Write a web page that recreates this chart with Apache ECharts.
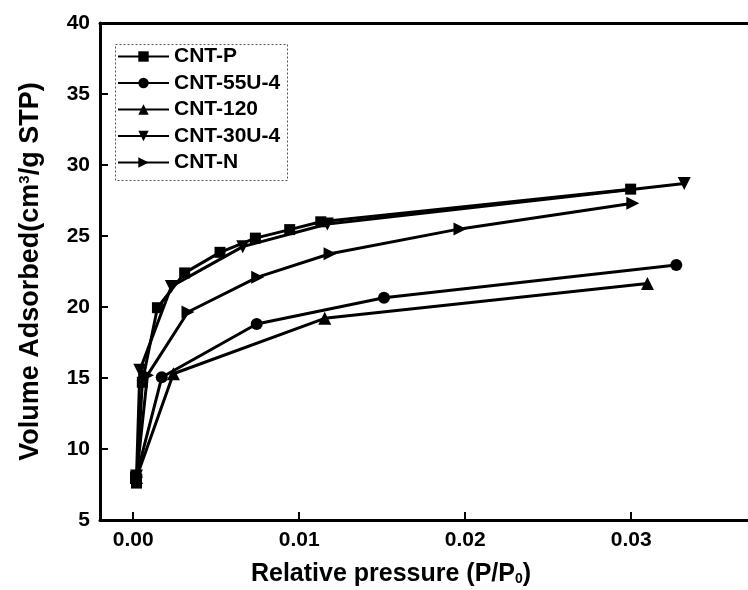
<!DOCTYPE html>
<html>
<head>
<meta charset="utf-8">
<title>CNT isotherms</title>
<script src="https://cdn.jsdelivr.net/npm/echarts@6/dist/echarts.min.js"></script>
<style>
  html, body { margin: 0; padding: 0; background: #fff; }
  #chart { width: 748px; height: 590px; }
</style>
</head>
<body>
<div id="chart"></div>
<script>
// data
const seriesNames = ['CNT-P', 'CNT-55U-4', 'CNT-120', 'CNT-30U-4', 'CNT-N'];

const xP = [0.0002, 0.00055, 0.00146, 0.0031, 0.00523, 0.00736, 0.00943, 0.0113, 0.02997];
const yP = [7.6, 14.7, 19.95, 22.4, 23.85, 24.85, 25.45, 26.0, 28.3];

const x55 = [0.0002, 0.00172, 0.00744, 0.01511, 0.03272];
const y55 = [8.1, 15.05, 18.8, 20.65, 22.95];

const x120 = [0.0002, 0.00242, 0.01154, 0.03098];
const y120 = [8.0, 15.3, 19.2, 21.65];

const x30 = [0.0002, 0.0004, 0.0023, 0.0066, 0.0117, 0.0332];
const y30 = [8.1, 15.55, 21.45, 24.25, 25.85, 28.7];

const xN = [0.0002, 0.00086, 0.0033, 0.0075, 0.01186, 0.01969, 0.0301];
const yN = [8.0, 15.2, 19.65, 22.1, 23.75, 25.5, 27.3];

const xTicks = [0, 0.01, 0.02, 0.03];

const font = '"Liberation Sans", Arial, sans-serif';
const pairs = (xs, ys) => xs.map((x, i) => [x, ys[i]]);

const symbols = [
  'rect',
  'circle',
  'triangle',
  'path://M0,0 L10,0 L5,10 Z',
  'path://M0,0 L10,5 L0,10 Z'
];
const sizes = [11, 12, 13, 13, 13];
const dataSets = [pairs(xP, yP), pairs(x55, y55), pairs(x120, y120), pairs(x30, y30), pairs(xN, yN)];

const chart = echarts.init(document.getElementById('chart'));

const option = {
  animation: false,
  backgroundColor: '#fff',
  grid: { left: 100, top: 23, right: 0, bottom: 70 },
  legend: {
    orient: 'vertical',
    left: 117, top: 46, padding: 0,
    itemWidth: 51, itemHeight: 13, itemGap: 5.5,
    textStyle: { fontFamily: font, fontWeight: 'bold', fontSize: 21, color: '#000', lineHeight: 21 },
    data: seriesNames
  },
  graphic: [
    {
      type: 'rect', left: 113, top: 42, silent: true,
      shape: { width: 172, height: 136 },
      style: { fill: 'none', stroke: '#555', lineWidth: 1, lineDash: [2, 2] }
    },
    {
      type: 'text', x: 391, y: 574, silent: true,
      style: {
        text: 'Relative pressure (P/P{sub|0})',
        font: 'bold 25px ' + font, fill: '#000',
        align: 'center', verticalAlign: 'middle',
        rich: { sub: { fontSize: 14, fontWeight: 'bold', fontFamily: font, verticalAlign: 'bottom', fill: '#000' } }
      }
    }
  ],
  xAxis: [
    {
      type: 'value', min: -0.002, max: 0.03704,
      splitLine: { show: false },
      axisLine: { onZero: false, lineStyle: { color: '#000', width: 3 } },
      axisTick: { inside: true, length: 8, lineStyle: { width: 2, color: '#000' }, customValues: xTicks },
      axisLabel: {
        customValues: xTicks, margin: 10,
        fontFamily: font, fontWeight: 'bold', fontSize: 21, color: '#000',
        formatter: v => v.toFixed(2)
      }
    },
    {
      // top frame line only
      type: 'value', position: 'top', min: -0.002, max: 0.03704,
      splitLine: { show: false },
      axisLine: { onZero: false, lineStyle: { color: '#000', width: 3 } },
      axisTick: { show: false },
      axisLabel: { show: false }
    }
  ],
  yAxis: {
    type: 'value', min: 5, max: 40, interval: 5,
    name: 'Volume Adsorbed(cm{sup|3}/g STP)',
    nameLocation: 'middle', nameGap: 56,
    nameTextStyle: {
      fontFamily: font, fontWeight: 'bold', fontSize: 27, color: '#000',
      rich: { sup: { fontSize: 15, fontWeight: 'bold', fontFamily: font, verticalAlign: 'top', color: '#000' } }
    },
    splitLine: { show: false },
    axisLine: { onZero: false, lineStyle: { color: '#000', width: 3 } },
    axisTick: { inside: true, length: 8, lineStyle: { width: 2, color: '#000' } },
    axisLabel: { margin: 10, fontFamily: font, fontWeight: 'bold', fontSize: 21, color: '#000' }
  },
  series: seriesNames.map((name, i) => ({
    name: name,
    type: 'line',
    data: dataSets[i],
    symbol: symbols[i],
    symbolSize: sizes[i],
    showAllSymbol: true,
    lineStyle: { color: '#000', width: 3 },
    itemStyle: { color: '#000' }
  }))
};

chart.setOption(option);
</script>
</body>
</html>
